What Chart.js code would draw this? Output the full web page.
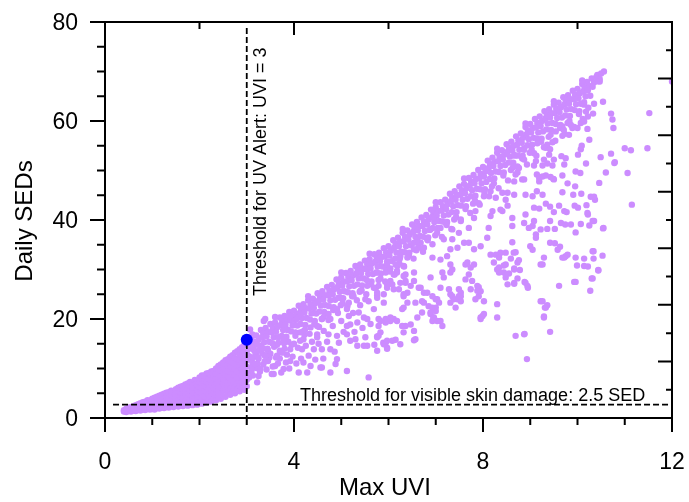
<!DOCTYPE html>
<html><head><meta charset="utf-8">
<script src="https://cdn.jsdelivr.net/npm/chart.js@4.4.1/dist/chart.umd.min.js"></script>
<style>html,body{margin:0;padding:0;background:#fff;}canvas{display:block;}</style>
</head><body>
<canvas id="c" width="689" height="502"></canvas>
<script>
// ---- tick labels / thresholds ----
const xTickLabels = [0, 4, 8, 12];
const yTickLabels = [0, 20, 40, 60, 80];
const uvAlertThreshold = 3;          // UVI
const skinDamageThreshold = 2.7;     // SED (line as drawn)
const alertDay = [[3.0, 15.8]];

// ---- measured days: [max UVI, daily SEDs] ----
const lowUviDays = [
[0.40,1.3],[0.40,1.6],
[0.45,1.2],[0.45,1.5],[0.45,1.9],
[0.50,1.4],[0.50,1.8],[0.50,2.1],
[0.55,1.3],[0.55,1.6],[0.55,2.2],
[0.60,1.5],[0.60,1.8],[0.60,2.1],[0.60,2.4],
[0.65,1.4],[0.65,1.7],[0.65,2.3],[0.65,2.6],
[0.70,1.6],[0.70,2.0],[0.70,2.5],[0.70,2.8],
[0.75,1.5],[0.75,1.9],[0.75,2.4],[0.75,3.0],
[0.80,1.7],[0.80,2.2],[0.80,2.8],[0.80,3.2],
[0.85,1.6],[0.85,2.0],[0.85,2.6],[0.85,3.3],
[0.90,1.8],[0.90,2.4],[0.90,3.0],[0.90,3.6],
[0.95,1.7],[0.95,2.2],[0.95,2.8],[0.95,3.5],
[1.00,1.8],[1.00,2.3],[1.00,2.9],[1.00,3.4],[1.00,3.9],
[1.05,1.7],[1.05,2.4],[1.05,3.0],[1.05,3.6],[1.05,4.1],
[1.10,2.0],[1.10,2.6],[1.10,3.2],[1.10,3.8],[1.10,4.3],
[1.15,1.9],[1.15,2.5],[1.15,3.1],[1.15,3.7],[1.15,4.5],
[1.20,2.1],[1.20,2.8],[1.20,3.4],[1.20,4.0],[1.20,4.7],
[1.25,2.0],[1.25,2.6],[1.25,3.3],[1.25,4.3],[1.25,4.9],
[1.30,2.2],[1.30,2.9],[1.30,3.6],[1.30,4.4],[1.30,5.1],
[1.35,2.1],[1.35,2.8],[1.35,3.5],[1.35,4.2],[1.35,5.2],
[1.40,2.4],[1.40,3.1],[1.40,3.8],[1.40,4.6],[1.40,5.5],
[1.45,2.2],[1.45,2.9],[1.45,3.7],[1.45,4.5],[1.45,5.3],
[1.50,2.5],[1.50,3.3],[1.50,4.1],[1.50,4.9],[1.50,5.8],
[1.55,2.3],[1.55,3.1],[1.55,3.9],[1.55,4.7],[1.55,5.5],[1.55,6.1],
[1.60,2.6],[1.60,3.4],[1.60,4.3],[1.60,5.2],[1.60,6.3],
[1.65,2.4],[1.65,3.2],[1.65,4.1],[1.65,5.0],[1.65,5.8],[1.65,6.5],
[1.70,2.7],[1.70,3.6],[1.70,4.5],[1.70,5.4],[1.70,6.2],[1.70,6.8],
[1.75,2.5],[1.75,3.4],[1.75,4.3],[1.75,5.2],[1.75,6.0],[1.75,7.0],
[1.80,2.8],[1.80,3.8],[1.80,4.7],[1.80,5.6],[1.80,6.5],[1.80,7.3],
[1.85,2.6],[1.85,3.6],[1.85,4.5],[1.85,5.4],[1.85,6.3],[1.85,7.1],
[1.90,3.0],[1.90,4.0],[1.90,4.9],[1.90,5.9],[1.90,6.8],[1.90,7.7],
[1.95,2.7],[1.95,3.8],[1.95,4.7],[1.95,5.7],[1.95,6.6],[1.95,7.5],
[2.00,3.1],[2.00,4.2],[2.00,5.2],[2.00,6.2],[2.00,7.2],[2.00,8.2],
[2.05,2.9],[2.05,4.0],[2.05,5.0],[2.05,6.0],[2.05,7.0],[2.05,7.9],[2.05,8.6],
[2.10,3.3],[2.10,4.4],[2.10,5.5],[2.10,6.5],[2.10,7.5],[2.10,8.6],
[2.15,3.1],[2.15,4.2],[2.15,5.3],[2.15,6.3],[2.15,7.3],[2.15,8.3],[2.15,9.0],
[2.20,3.5],[2.20,4.7],[2.20,5.8],[2.20,6.9],[2.20,7.9],[2.20,9.1],
[2.25,3.3],[2.25,4.5],[2.25,5.6],[2.25,6.7],[2.25,7.7],[2.25,8.7],[2.25,9.4],
[2.30,3.8],[2.30,5.0],[2.30,6.1],[2.30,7.2],[2.30,8.3],[2.30,9.5],
[2.35,3.6],[2.35,4.8],[2.35,5.9],[2.35,7.0],[2.35,8.0],[2.35,9.0],[2.35,10.0],
[2.40,4.1],[2.40,5.3],[2.40,6.5],[2.40,7.6],[2.40,8.7],[2.40,9.8],[2.40,10.5],
[2.45,3.9],[2.45,5.1],[2.45,6.3],[2.45,7.4],[2.45,8.5],[2.45,9.5],[2.45,10.8],
[2.50,4.4],[2.50,5.7],[2.50,6.9],[2.50,8.0],[2.50,9.1],[2.50,10.3],[2.50,11.2],
[2.55,4.3],[2.55,5.5],[2.55,6.7],[2.55,7.8],[2.55,8.9],[2.55,10.0],[2.55,11.0],[2.55,11.7],
[2.60,4.9],[2.60,6.2],[2.60,7.3],[2.60,8.5],[2.60,9.6],[2.60,10.8],[2.60,11.9],
[2.65,4.7],[2.65,5.9],[2.65,7.1],[2.65,8.2],[2.65,9.4],[2.65,10.5],[2.65,11.5],[2.65,12.4],
[2.70,5.3],[2.70,6.5],[2.70,7.7],[2.70,8.9],[2.70,10.1],[2.70,11.3],[2.70,12.7],
[2.75,5.0],[2.75,6.2],[2.75,7.4],[2.75,8.7],[2.75,9.9],[2.75,11.0],[2.75,12.1],[2.75,13.2],
[2.80,5.7],[2.80,6.9],[2.80,8.2],[2.80,9.4],[2.80,10.6],[2.80,11.9],[2.80,13.5],
[2.85,5.4],[2.85,6.6],[2.85,7.9],[2.85,9.1],[2.85,10.4],[2.85,11.6],[2.85,12.8],[2.85,13.9],
[2.90,6.0],[2.90,7.3],[2.90,8.6],[2.90,9.9],[2.90,11.2],[2.90,12.5],[2.90,14.3],
[2.95,5.7],[2.95,7.0],[2.95,8.3],[2.95,9.6],[2.95,10.9],[2.95,12.2],[2.95,13.4],[2.95,14.8],
[3.00,6.4],[3.00,7.7],[3.00,9.1],[3.00,10.4],[3.00,11.7],[3.00,13.1],[3.00,14.9],
[3.05,8.2],[3.10,9.5],[3.12,11.2],[3.20,10.1],[3.25,12.0],[3.35,10.8],[3.45,11.5],
[3.50,13.0],[3.60,10.5],[3.70,12.0],[3.85,12.8],[3.95,14.8],[3.05,12.5],[3.15,13.8],[3.25,8.5],
[3.07,17.9],[3.12,16.9],
[3.02,16.3],[3.05,14.0],[3.08,11.8],[3.10,10.2],[3.13,8.6],[3.18,15.0],[3.20,12.8],[3.23,11.0],
[3.28,9.4],[3.30,14.6],[3.33,13.0],[3.38,11.4],[3.42,9.8],[3.45,13.6],[3.48,12.2],[3.55,10.4],
[3.58,14.4],[3.62,12.2],[3.66,11.0],[3.70,13.6],[3.73,9.2],[3.80,14.0],[3.83,11.2],[3.88,15.4],
[3.90,10.0],[3.97,12.4],[4.00,15.0],[4.05,11.0],[4.08,14.2],[4.15,12.0],[4.22,16.8],[4.25,14.6],
[4.38,15.4],[4.45,11.8],[4.52,15.0],[4.62,12.0],[4.70,15.4],[4.82,18.6],[4.86,13.4],[5.00,19.6],
[5.05,17.4],[5.25,21.2],[5.28,17.4],[5.40,22.8],[5.45,18.2],[5.62,19.0],[5.70,14.8]
];

const bandDays = [
[3.10,16.2],[3.15,15.4],[3.12,14.5],[3.17,13.5],[3.14,12.3],
[3.20,16.7],[3.25,15.8],[3.22,14.8],[3.27,13.7],[3.24,12.2],
[3.30,17.8],[3.35,17.1],[3.32,16.3],[3.37,15.3],[3.34,14.1],[3.39,12.6],
[3.40,18.2],[3.45,17.4],[3.42,16.5],[3.47,15.4],[3.44,14.0],
[3.50,19.0],[3.55,18.2],[3.52,17.3],[3.57,16.3],[3.54,15.1],
[3.60,19.3],[3.65,18.4],[3.62,17.4],[3.67,16.3],[3.64,14.8],
[3.70,20.3],[3.75,19.6],[3.72,18.8],[3.77,17.8],[3.74,16.6],[3.79,15.1],
[3.80,20.6],[3.85,19.8],[3.82,18.9],[3.87,17.8],[3.84,16.4],
[3.90,21.4],[3.95,20.6],[3.92,19.7],[3.97,18.7],[3.94,17.5],
[4.00,21.7],[4.05,20.8],[4.02,19.8],[4.07,18.7],[4.04,17.2],
[4.10,22.7],[4.15,22.0],[4.12,21.2],[4.17,20.2],[4.14,19.0],[4.19,17.5],
[4.20,23.0],[4.25,22.2],[4.22,21.3],[4.27,20.2],[4.24,18.8],
[4.30,23.8],[4.35,23.0],[4.32,22.1],[4.37,21.1],[4.34,19.9],
[4.40,24.1],[4.45,23.2],[4.42,22.2],[4.47,21.1],[4.44,19.6],
[4.50,25.2],[4.55,24.5],[4.52,23.7],[4.57,22.7],[4.54,21.5],[4.59,20.0],
[4.60,25.6],[4.65,24.8],[4.62,23.9],[4.67,22.8],[4.64,21.4],
[4.70,26.5],[4.75,25.7],[4.72,24.8],[4.77,23.8],[4.74,22.6],
[4.80,26.9],[4.85,26.0],[4.82,25.0],[4.87,23.9],[4.84,22.4],
[4.90,28.0],[4.95,27.3],[4.92,26.5],[4.97,25.5],[4.94,24.3],[4.99,22.8],
[5.00,28.4],[5.05,27.6],[5.02,26.7],[5.07,25.6],[5.04,24.2],
[5.10,29.3],[5.15,28.5],[5.12,27.6],[5.17,26.6],[5.14,25.4],
[5.20,29.7],[5.25,28.8],[5.22,27.8],[5.27,26.7],[5.24,25.2],
[5.30,30.7],[5.35,30.0],[5.32,29.2],[5.37,28.2],[5.34,27.0],[5.39,25.5],
[5.40,31.0],[5.45,30.2],[5.42,29.3],[5.47,28.2],[5.44,26.8],
[5.50,31.8],[5.55,31.0],[5.52,30.1],[5.57,29.1],[5.54,27.9],
[5.60,32.1],[5.65,31.2],[5.62,30.2],[5.67,29.1],[5.64,27.6],
[5.70,33.1],[5.75,32.4],[5.72,31.6],[5.77,30.6],[5.74,29.4],[5.79,27.9],
[5.80,33.4],[5.85,32.6],[5.82,31.7],[5.87,30.6],[5.84,29.2],
[5.90,34.3],[5.95,33.5],[5.92,32.6],[5.97,31.6],[5.94,30.4],
[6.00,34.7],[6.05,33.8],[6.02,32.8],[6.07,31.7],[6.04,30.2],
[6.10,35.9],[6.15,35.2],[6.12,34.4],[6.17,33.4],[6.14,32.2],[6.19,30.7],
[6.20,36.4],[6.25,35.6],[6.22,34.7],[6.27,33.6],[6.24,32.2],
[6.30,37.4],[6.35,36.6],[6.32,35.7],[6.37,34.7],[6.34,33.5],
[6.40,37.9],[6.45,37.0],[6.42,36.0],[6.47,34.9],[6.44,33.4],
[6.50,39.1],[6.55,38.4],[6.52,37.6],[6.57,36.6],[6.54,35.4],[6.59,33.9],
[6.60,39.6],[6.65,38.8],[6.62,37.9],[6.67,36.8],[6.64,35.4],
[6.70,40.5],[6.75,39.7],[6.72,38.8],[6.77,37.8],[6.74,36.6],
[6.80,41.0],[6.85,40.1],[6.82,39.1],[6.87,38.0],[6.84,36.5],
[6.90,42.1],[6.95,41.4],[6.92,40.6],[6.97,39.6],[6.94,38.4],[6.99,36.9],
[7.00,42.6],[7.05,41.8],[7.02,40.9],[7.07,39.8],[7.04,38.4],
[7.10,43.6],[7.15,42.8],[7.12,41.9],[7.17,40.9],[7.14,39.7],
[7.20,44.1],[7.25,43.2],[7.22,42.2],[7.27,41.1],[7.24,39.6],
[7.30,45.3],[7.35,44.6],[7.32,43.8],[7.37,42.8],[7.34,41.6],[7.39,40.1],
[7.40,45.8],[7.45,45.0],[7.42,44.1],[7.47,43.0],[7.44,41.6],
[7.50,46.8],[7.55,46.0],[7.52,45.1],[7.57,44.1],[7.54,42.9],
[7.60,47.3],[7.65,46.4],[7.62,45.4],[7.67,44.3],[7.64,42.8],
[7.70,48.5],[7.75,47.8],[7.72,47.0],[7.77,46.0],[7.74,44.8],[7.79,43.3],
[7.80,49.1],[7.85,48.3],[7.82,47.4],[7.87,46.3],[7.84,44.9],
[7.90,50.1],[7.95,49.3],[7.92,48.4],[7.97,47.4],[7.94,46.2],
[8.00,50.7],[8.05,49.8],[8.02,48.8],[8.07,47.7],[8.04,46.2],
[8.10,52.0],[8.15,51.3],[8.12,50.5],[8.17,49.5],[8.14,48.3],[8.19,46.8],
[8.20,52.6],[8.25,51.8],[8.22,50.9],[8.27,49.8],[8.24,48.4],
[8.30,53.6],[8.35,52.8],[8.32,51.9],[8.37,50.9],[8.34,49.7],
[8.40,54.1],[8.45,53.2],[8.42,52.2],[8.47,51.1],[8.44,49.6],
[8.50,55.3],[8.55,54.6],[8.52,53.8],[8.57,52.8],[8.54,51.6],[8.59,50.1],
[8.60,55.8],[8.65,55.0],[8.62,54.1],[8.67,53.0],[8.64,51.6],
[8.70,56.9],[8.75,56.1],[8.72,55.2],[8.77,54.2],[8.74,53.0],
[8.80,57.5],[8.85,56.6],[8.82,55.6],[8.87,54.5],[8.84,53.0],
[8.90,58.8],[8.95,58.1],[8.92,57.3],[8.97,56.3],[8.94,55.1],[8.99,53.6],
[9.00,59.4],[9.05,58.6],[9.02,57.7],[9.07,56.6],[9.04,55.2],
[9.10,60.4],[9.15,59.6],[9.12,58.7],[9.17,57.7],[9.14,56.5],
[9.20,60.9],[9.25,60.0],[9.22,59.0],[9.27,57.9],[9.24,56.4],
[9.30,62.0],[9.35,61.3],[9.32,60.5],[9.37,59.5],[9.34,58.3],[9.39,56.8],
[9.40,62.4],[9.45,61.6],[9.42,60.7],[9.47,59.6],[9.44,58.2],
[9.50,63.3],[9.55,62.5],[9.52,61.6],[9.57,60.6],[9.54,59.4],
[9.60,63.7],[9.65,62.8],[9.62,61.8],[9.67,60.7],[9.64,59.2],
[9.70,64.8],[9.75,64.1],[9.72,63.3],[9.77,62.3],[9.74,61.1],[9.79,59.6],
[9.80,65.2],[9.85,64.4],[9.82,63.5],[9.87,62.4],[9.84,61.0],
[9.90,66.1],[9.95,65.3],[9.92,64.4],[9.97,63.4],[9.94,62.2],
[10.00,66.5],[10.05,65.6],[10.02,64.6],[10.07,63.5],[10.04,62.0],
[10.10,67.5],[10.15,66.8],[10.12,66.0],[10.17,65.0],[10.14,63.8],
[10.20,67.9],[10.25,67.1],[10.22,66.2],[10.27,65.1],
[10.30,68.6],[10.35,67.8],[10.32,66.9],
[10.40,68.9],[10.45,68.0],[10.42,69.3],
[10.50,69.6],[10.56,70.0],[10.47,68.5],
[4.03,16.6],[4.13,15.6],[4.23,17.8],[4.33,17.0],[4.43,19.0],[4.53,18.4],[4.63,20.4],[4.73,19.8],
[4.83,21.8],[4.93,21.2],[5.03,23.2],[5.13,22.6],[5.23,24.6],[5.33,23.8],[5.43,25.8],[5.53,25.0],
[5.63,27.0],[5.73,26.2],[5.83,28.2],[5.93,27.6],[6.03,29.6],[6.13,29.0],[6.23,31.2],[6.33,30.6],
[6.43,32.8],[6.53,32.2],[6.63,34.4],[6.73,33.6],[6.83,35.9],[6.93,35.1],[7.03,37.4],[7.13,36.6],
[7.23,39.0],[7.33,38.2],[7.43,40.6],[7.53,39.8],[7.63,42.2],[7.73,41.4],[7.83,43.9],[7.93,43.1],
[8.03,45.6],[8.13,44.8],[8.23,47.4],[8.33,46.4],[8.43,49.0],[8.53,48.0],[8.63,50.6],[8.73,49.6],
[8.83,52.4],[8.93,51.2],[9.03,54.2],[9.13,53.0],[9.23,55.8],[9.33,54.6],[9.43,57.2],[9.53,56.0],
[9.63,58.6],[9.73,57.4],[9.83,60.0],[9.93,58.8],[10.03,61.4],[10.13,60.2],[10.23,62.7],[10.33,61.5],
[3.60,20.4],[4.30,24.6],[5.00,29.4],[5.60,33.2],[6.30,38.2],[7.00,43.6],[7.60,48.4],[8.30,54.4],
[8.90,59.5],[9.50,64.0],[10.10,68.2]
];

const scatterDays = [
[5.58,8.2],[4.77,9.2],[4.59,10.2],[5.12,9.5],[4.10,9.2],[4.28,9.2],[3.57,8.9],[3.22,7.2],[3.36,19.6],[5.76,16.5],
[5.97,14.2],[6.15,15.8],[5.94,15.2],[6.57,15.9],[6.54,17.6],[6.89,21.0],[7.03,19.6],[7.00,21.6],[7.31,23.3],[7.53,24.6],
[7.46,24.0],[7.95,20.0],[7.99,20.6],[8.30,20.3],[8.30,23.0],[8.69,16.6],[8.87,16.9],[8.93,11.9],[9.22,23.6],[9.29,20.3],
[9.33,22.3],[9.42,17.4],[9.61,26.7],[9.93,27.5],[10.27,25.7],[10.44,29.8],[10.30,28.2],[10.53,32.8],[9.75,32.7],[10.14,30.7],
[10.32,33.7],[9.96,32.4],[9.68,32.4],[9.22,31.0],[9.29,32.4],[8.94,26.7],[8.88,27.5],[8.66,27.3],[8.52,27.0],[8.66,30.0],
[8.73,31.4],[8.44,29.4],[8.30,30.0],[8.34,33.0],[8.16,33.0],[8.65,33.4],[8.48,33.4],[8.02,23.6],[7.88,25.7],[7.91,26.4],
[7.77,27.7],[7.81,31.0],[7.70,29.0],[7.63,31.0],[7.49,26.0],[7.53,25.3],[7.35,24.6],[7.28,26.0],[7.17,28.4],[7.00,24.0],
[6.93,22.3],[6.95,20.3],[6.75,25.3],[6.68,26.3],[6.57,23.3],[6.54,27.7],[6.40,25.3],[6.32,22.3],[6.36,18.6],[6.29,22.0],
[6.11,20.0],[6.04,19.6],[5.94,20.0],[5.79,16.6],[5.79,18.6],[6.18,29.7],[6.36,27.7],[6.32,24.6],[6.11,26.0],[6.22,26.0],
[6.04,27.7],[5.76,25.3],[5.58,23.6],[5.48,20.3],[5.51,16.3],[5.55,14.6],[5.30,15.9],[5.34,14.6],[5.19,18.9],[5.16,20.6],
[5.12,16.9],[4.95,15.2],[4.88,10.9],[4.91,11.9],[4.77,13.9],[4.73,16.9],[4.59,13.9],[4.56,10.2],[4.42,13.9],[4.49,16.3],
[4.31,12.6],[4.35,10.5],[4.20,11.2],[4.17,13.9],[4.13,17.3],[3.92,11.5],[3.92,13.9],[3.78,9.9],[3.75,13.2],[3.64,12.6],
[3.53,8.9],[3.39,12.6],[3.29,9.9],[3.18,10.9],
[5.83,19.6],[5.94,19.3],[6.04,20.3],[6.18,19.6],[6.29,18.6],[6.32,17.3],[5.76,16.3],[5.89,15.2],[6.08,15.6],[6.25,14.9],
[5.97,14.0],[6.54,15.7],[6.47,18.9],[6.71,21.3],[6.61,20.3],[6.89,21.3],[6.96,20.3],[7.10,19.6],[7.14,18.6],[6.93,19.6],
[6.85,22.6],[7.00,22.3],[7.07,23.3],[7.38,24.0],[7.49,24.6],[7.53,23.6],[7.42,22.3],[7.63,28.0],[7.74,26.0],[7.84,24.0],
[7.95,20.3],[8.02,21.0],[7.91,24.6],[7.95,25.6],[7.88,26.7],[8.48,28.4],[8.34,29.4],[6.18,29.4],[6.32,28.7],[6.25,27.3],
[6.36,27.3],[6.47,26.7],[6.54,29.4],[6.89,28.4],[7.14,29.4],[7.31,29.4],[5.76,29.4],[5.94,29.4],[5.79,26.7],[5.97,27.0],
[6.08,27.0],[5.90,25.0],[5.76,24.8],[6.32,25.0],[6.40,23.3],[6.64,26.3],[6.71,23.6],[6.75,23.3],[6.82,25.3],[6.93,24.6],
[7.03,24.0],[7.10,26.3],[7.31,25.0],
[8.66,47.8],[8.83,48.2],[9.19,47.8],[9.50,48.2],[9.79,47.4],[10.46,47.5],[8.52,45.5],[8.41,45.5],[8.66,45.1],[8.48,44.1],
[8.52,42.9],[8.41,41.8],[8.90,45.1],[9.05,44.8],[9.14,45.8],[9.26,45.1],[9.68,45.6],[9.91,45.1],[10.08,45.3],[10.28,44.7],
[10.37,44.1],[11.15,43.1],[9.08,42.5],[9.19,42.3],[9.33,43.3],[9.42,42.7],[9.50,41.6],[9.61,42.9],[9.72,41.8],[9.77,41.6],
[9.94,42.9],[10.01,42.5],[10.22,41.1],[8.62,40.4],[8.90,41.1],[8.87,39.4],[9.08,39.8],[9.05,38.8],[8.97,38.4],[8.62,38.8],
[9.22,38.1],[9.36,38.2],[9.52,38.2],[9.42,39.8],[9.65,39.4],[9.74,39.1],[9.86,39.1],[10.07,39.2],[10.25,38.9],[10.35,39.8],
[9.96,37.5],[10.55,38.4],[9.12,37.1],[9.12,36.4],[8.62,35.5],[9.00,34.7],[9.05,34.0],[9.42,35.4],[9.52,35.3],[9.63,34.6],
[9.58,34.0],[9.79,33.0],[9.72,32.4],[10.14,32.2],[10.34,33.7],[10.34,32.2],[10.22,30.6],[10.44,29.9],[9.99,30.8],[9.26,31.0],
[8.37,33.4],[8.44,30.8],[8.59,32.2],[8.69,33.5],[8.76,31.9],[8.66,30.2],[8.78,29.9],[8.73,28.2],[8.55,29.2],[8.66,27.1],
[8.90,27.3],[8.95,26.3],[9.96,27.5],[10.32,28.2],[9.26,23.6],[9.36,22.8],[9.31,22.3],[9.29,20.5],
[11.52,61.6],[11.48,54.5],[11.00,54.5],[11.13,54.1],[11.06,49.5],[10.71,61.5],[10.74,60.3],[10.76,58.6],[10.54,63.9],[10.35,63.5],
[10.47,68.0],[10.14,63.3],[10.18,61.9],[10.22,60.9],[10.11,60.4],[10.07,59.6],[10.21,58.4],[10.25,56.2],[10.09,55.0],[10.07,54.3],
[10.49,52.7],[10.71,53.4],[10.79,51.7],[10.60,49.6],[10.18,51.4],[10.01,53.2],[9.96,49.8],[10.06,49.5],[9.82,57.2],[9.68,57.0],
[9.68,58.9],[9.75,52.5],[9.72,51.2],[9.66,52.9],[9.50,52.2],[9.47,51.0],[9.36,51.4],[9.29,52.2],[9.26,51.0],[9.12,51.9],
[9.08,51.0],[9.40,53.2],[9.42,54.3],[9.36,55.2],[9.47,55.7],[9.29,54.7],[9.15,55.5],[9.08,53.5],[8.87,52.2],[8.87,54.2],
[8.73,50.8],[8.76,50.5],[8.66,50.8],[8.66,53.2],[8.69,49.2],[8.87,48.2],[9.14,49.2],[9.19,48.5],[9.26,48.8],[9.33,49.0],
[9.43,48.7],[9.49,48.3],[9.68,49.0],[9.71,58.2],[9.54,57.9],[9.89,58.6],[9.86,59.2],[10.00,58.6],[10.14,59.9],
[12.00,68.0],[10.78,51.5],[10.54,38.3],[10.35,44.7],[10.19,43.0],[10.21,41.4],[10.32,39.8],[9.95,46.8],
[7.53,40.1],[7.81,40.4],[7.70,38.4],[7.49,37.4],[7.35,36.1],[7.17,36.1],[7.46,34.4],[7.31,34.1],[7.60,35.4],[7.70,35.4],
[7.81,34.1],[7.95,34.7],[8.09,36.4],[8.12,38.4],[8.16,40.8],[8.20,41.8],[7.84,41.8],[7.91,43.4],[8.02,44.8],[8.16,45.8],
[8.27,44.5],[8.37,42.1],[8.27,33.0],[8.23,31.4],[8.34,30.4],[8.48,31.0],[6.96,40.4],[6.89,38.1],[7.10,38.4],[7.35,38.1],
[7.21,39.4],[6.82,36.1],[6.68,35.4],[6.54,34.1],[6.75,34.4],[6.93,32.4],[7.10,32.0],[7.24,32.7],[7.31,31.0],[7.35,30.0],
[7.67,31.4],[7.74,30.4],[6.40,32.4],[6.25,32.7],[6.15,31.0],[6.32,30.7],[5.97,31.0],[5.83,32.4],[6.11,29.0],[6.36,29.0],
[6.61,36.1],[8.34,32.4],
[5.16,23.3],[5.12,22.0],[4.91,22.0],[4.73,21.0],[4.77,20.0],[4.59,20.0],[4.49,18.6],[4.35,18.3],[4.63,17.6],[4.49,16.9],
[4.91,16.6],[5.12,18.6],[5.34,19.3],[5.37,21.3],[5.51,24.0],[5.55,20.0],[5.69,22.0],[5.79,20.0],[5.90,23.3],[5.97,26.3],
[5.76,24.3],[5.69,26.3],[5.55,26.7],[5.41,25.7],[5.26,24.6],[4.98,24.3],[4.06,20.0],[4.13,21.0],[3.92,20.6],[3.85,17.9],
[4.03,17.3],[4.20,15.9],[3.78,15.9],[3.67,15.2],[3.39,20.0],[5.19,15.6],[5.48,14.6],[5.76,13.6],[5.83,17.3],[5.90,14.9],
[5.97,15.6],[8.88,17.0]
];

const purple = '#cc8cff';
const FONT = '"Liberation Sans", Arial, sans-serif';

function seg(ctx, x1, y1, x2, y2) { ctx.moveTo(x1, y1); ctx.lineTo(x2, y2); }

const framePlugin = {
  id: 'framePlugin',
  afterDatasetDraw(chart, args) {
    if (args.index !== 1) return;               // after the purple cloud, before the blue point
    const { ctx, scales: { x, y } } = chart;
    ctx.save();
    ctx.strokeStyle = '#000';
    ctx.lineWidth = 1.8;
    ctx.setLineDash([6, 3]);
    ctx.beginPath();
    const vx = x.getPixelForValue(uvAlertThreshold);
    seg(ctx, vx, y.getPixelForValue(78.8), vx, y.getPixelForValue(0));
    const hy = y.getPixelForValue(skinDamageThreshold);
    seg(ctx, x.getPixelForValue(0.17), hy, x.getPixelForValue(12), hy);
    ctx.stroke();
    ctx.restore();
  },
  afterDraw(chart) {
    const { ctx, chartArea: a, scales: { x, y, y2 } } = chart;
    ctx.save();
    ctx.strokeStyle = '#000';
    ctx.lineWidth = 2;
    ctx.setLineDash([]);
    ctx.beginPath();
    ctx.rect(a.left, a.top, a.right - a.left, a.bottom - a.top);
    for (let v = 0; v <= 80; v += 5) {
      const py = y.getPixelForValue(v);
      seg(ctx, a.left - (v % 20 === 0 ? 15 : 8), py, a.left, py);
    }
    for (let v = 0; v <= 12; v += 1) {
      const px = x.getPixelForValue(v);
      seg(ctx, px, a.bottom, px, a.bottom + (v % 4 === 0 ? 14 : 7));
    }
    for (let v = 2; v <= 10; v += 2) {
      const px = x.getPixelForValue(v);
      seg(ctx, px, a.top, px, a.top + (v % 4 === 0 ? 13 : 7));
    }
    for (let v = 1; v <= 13; v += 1) {
      const py = y2.getPixelForValue(v);
      seg(ctx, a.right - (v % 2 === 0 ? 14 : 6), py, a.right, py);
    }
    ctx.stroke();

    ctx.fillStyle = '#000';
    ctx.font = '23px ' + FONT;
    ctx.textBaseline = 'alphabetic';
    ctx.textAlign = 'center';
    xTickLabels.forEach(v => ctx.fillText(String(v), x.getPixelForValue(v), 469));
    ctx.textAlign = 'right';
    yTickLabels.forEach(v => ctx.fillText(String(v), 78, y.getPixelForValue(v) + 8));

    ctx.font = '24px ' + FONT;
    ctx.textAlign = 'center';
    ctx.fillText('Max UVI', 385, 495);
    ctx.save();
    ctx.translate(32, 221);
    ctx.rotate(-Math.PI / 2);
    ctx.fillText('Daily SEDs', 0, 0);
    ctx.restore();

    ctx.font = '18px ' + FONT;
    ctx.textAlign = 'left';
    ctx.fillText('Threshold for visible skin damage: 2.5 SED', 300, 400.5);
    ctx.save();
    ctx.translate(266, 296);
    ctx.rotate(-Math.PI / 2);
    ctx.fillText('Threshold for UV Alert: UVI = 3', 0, 0);
    ctx.restore();
    ctx.restore();
  }
};

new Chart(document.getElementById('c'), {
  type: 'scatter',
  data: {
    datasets: [
      { label: 'UV alert day', data: alertDay, order: 0,
        backgroundColor: '#0000ff', borderWidth: 0, pointRadius: 6, pointHoverRadius: 6 },
      { label: 'Days', data: lowUviDays.concat(bandDays, scatterDays), order: 1,
        backgroundColor: purple, borderWidth: 0, pointRadius: 3.2, pointHoverRadius: 3.2 }
    ]
  },
  options: {
    responsive: false,
    animation: false,
    devicePixelRatio: 1,
    layout: { padding: { left: 105, right: 17, top: 22, bottom: 84 } },
    plugins: { legend: { display: false }, tooltip: { enabled: false } },
    events: [],
    scales: {
      x: { type: 'linear', min: 0, max: 12, display: false },
      y: { type: 'linear', min: 0, max: 80, display: false },
      y2: { type: 'linear', min: 0, max: 14, display: false, position: 'right' }
    }
  },
  plugins: [framePlugin]
});
</script>
</body></html>
